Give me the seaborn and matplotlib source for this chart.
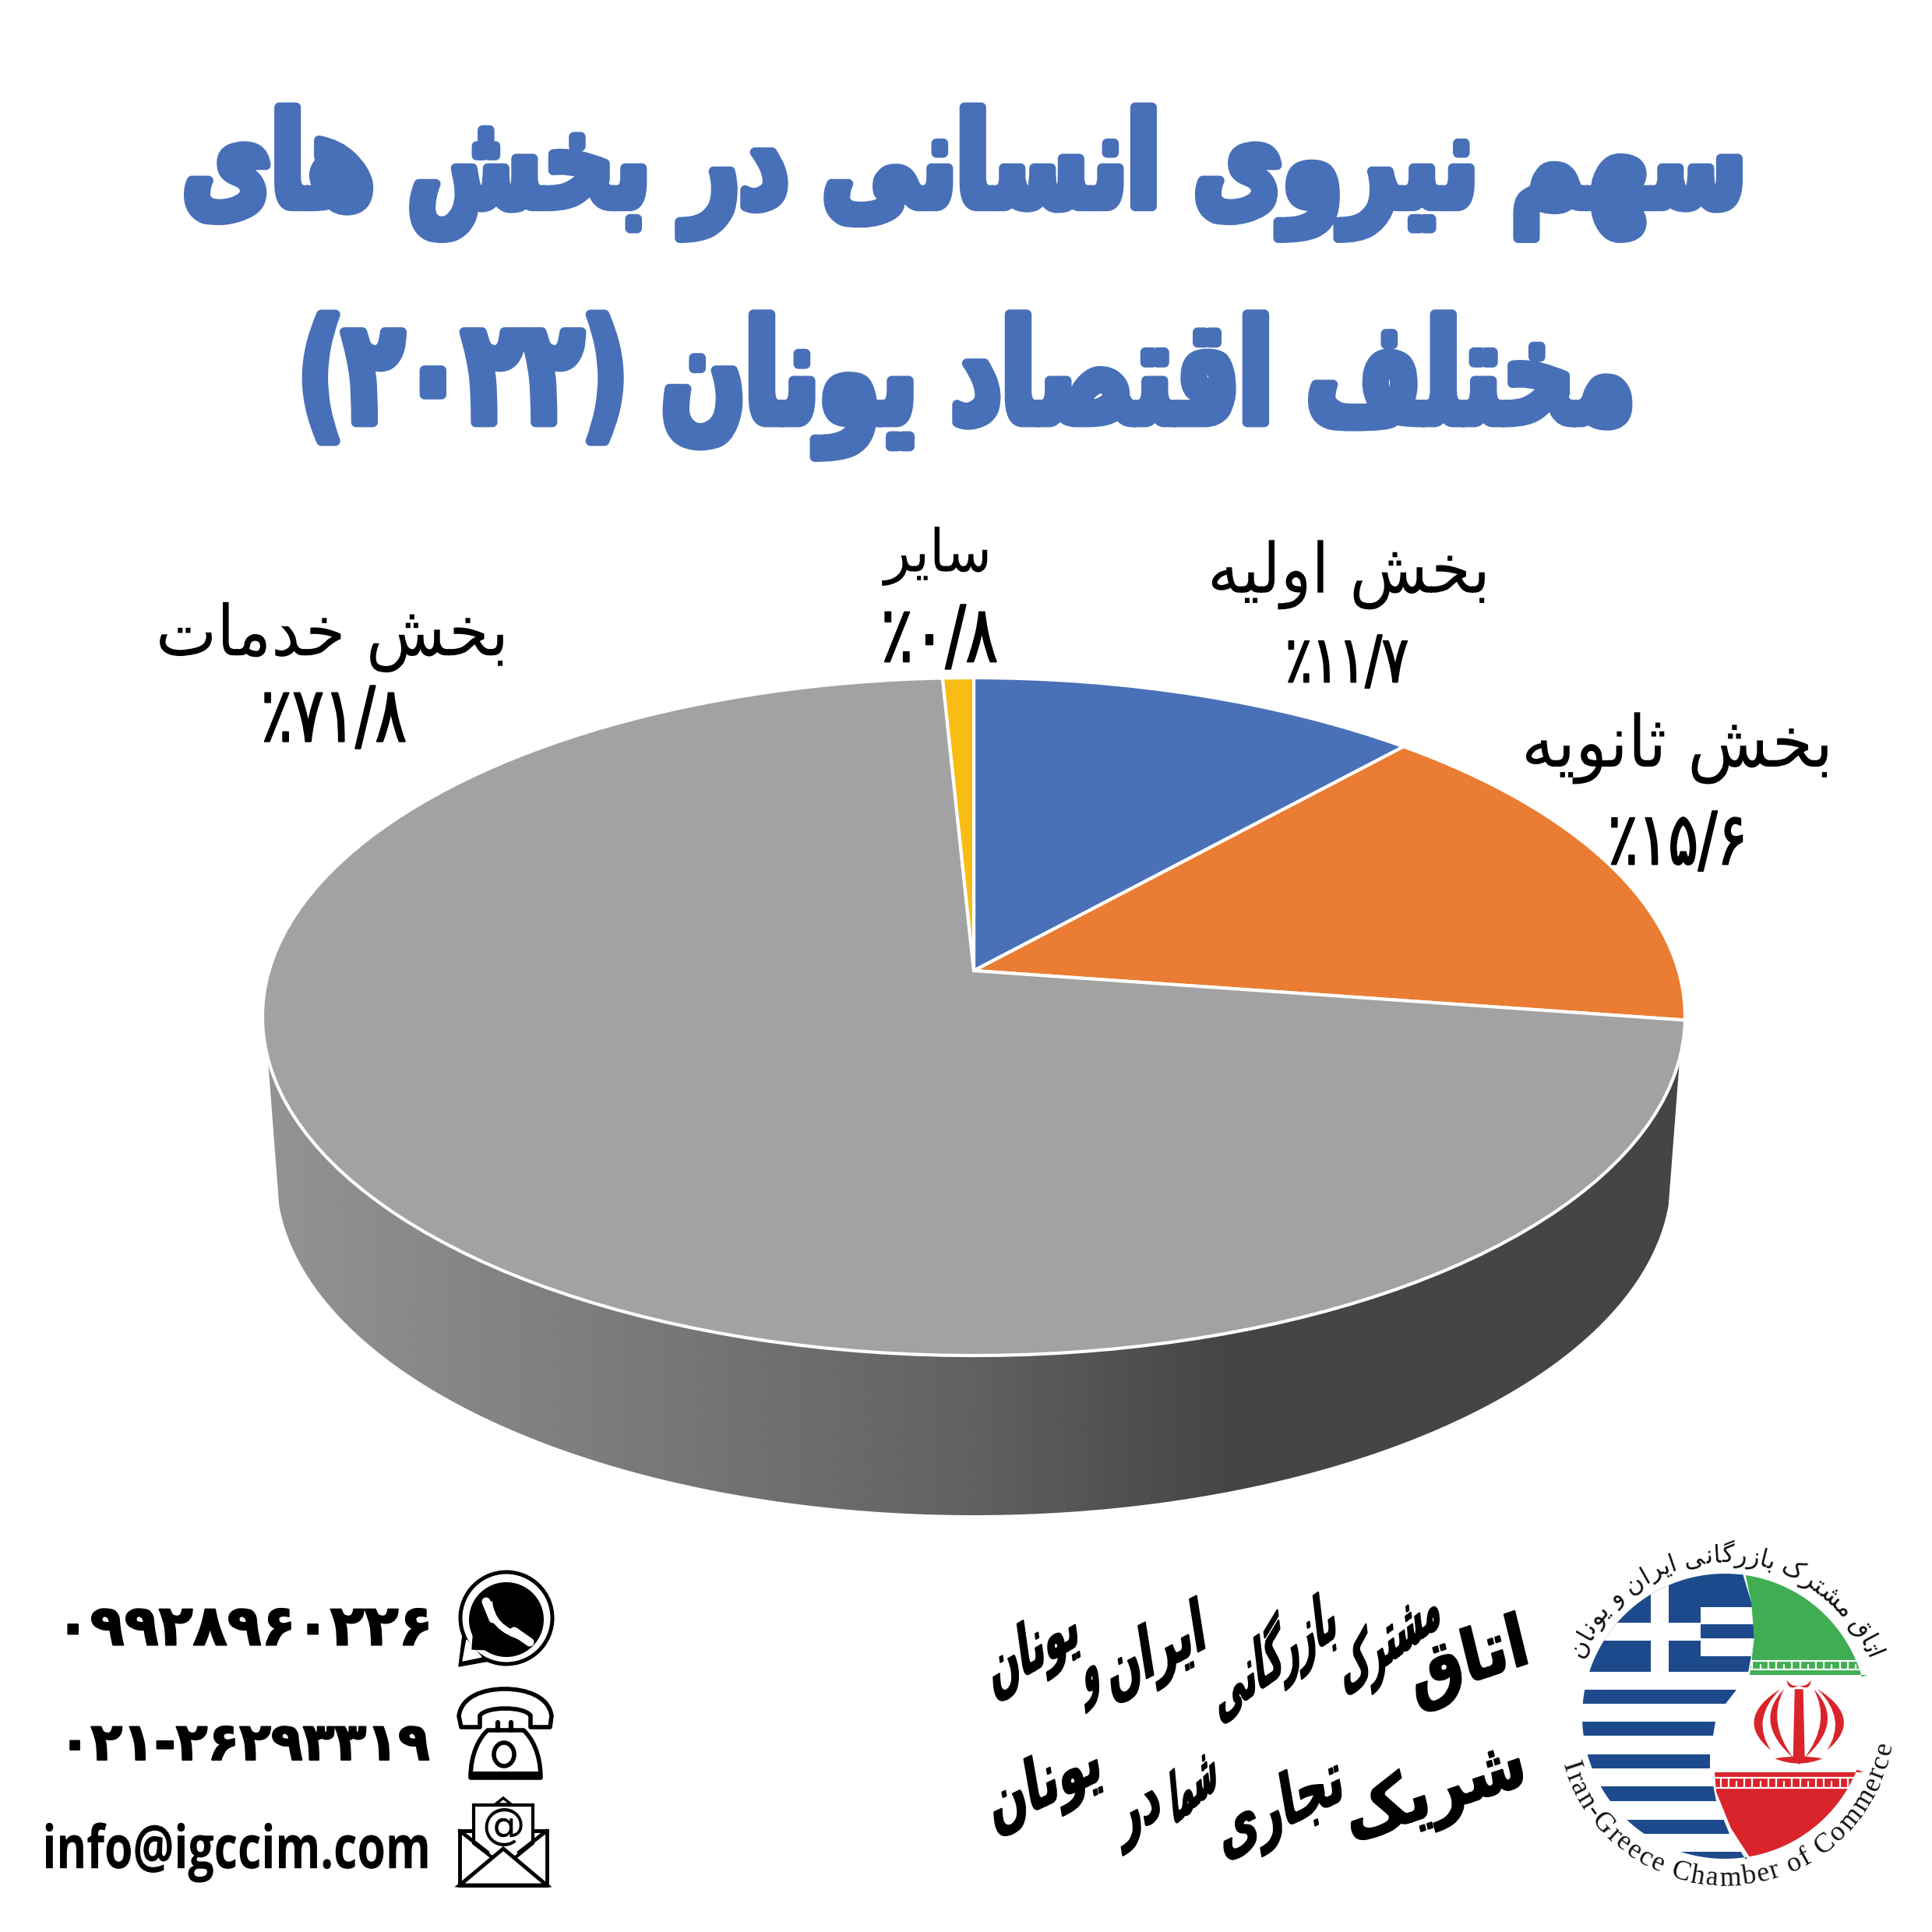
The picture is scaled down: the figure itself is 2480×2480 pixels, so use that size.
#!/usr/bin/env python3
import re
import numpy as np
import matplotlib
matplotlib.use("Agg")
import matplotlib.pyplot as plt
import matplotlib.transforms as mtransforms
import matplotlib.patheffects as pe
from matplotlib.font_manager import FontProperties
from matplotlib.patches import Circle, Ellipse, PathPatch, Polygon, Rectangle
from matplotlib.path import Path
from matplotlib.textpath import text_to_path
import seaborn as sns

# chart values
categories = ["بخش اولیه", "بخش ثانویه", "بخش خدمات", "سایر"]
shares = [11.7, 15.6, 71.8, 0.8]
slice_colors = ["#4A71B8", "#EA7D33", "#A2A2A2", "#F8BC15"]

title_lines = ["سهم نیروی انسانی در بخش های", "مختلف اقتصاد یونان (۲۰۲۲)"]
phone_mobile = "۰۹۹۲۸۹۶۰۲۲۶"
phone_office = "۰۲۱-۲۶۲۹۳۳۱۹"
email = "info@igccim.com"
logo_fa = "اتاق مشترک بازرگانی ایران و یونان"
logo_en = "Iran-Greece Chamber of Commerce"
slogan_1 = ["اتاق", "مشترک", "بازرگانی", "ایران", "و", "یونان"]
slogan_2 = ["شریک", "تجاری", "شما", "در", "یونان"]

TITLE_BLUE = "#4870B8"
GREEK_BLUE = "#1D4A8C"
IRAN_GREEN = "#3FAE53"
IRAN_RED = "#D9242B"

# (isolated, final, initial, medial) presentation forms
FORMS = {
    "ا": (0xFE8D, 0xFE8E), "د": (0xFEA9, 0xFEAA), "ر": (0xFEAD, 0xFEAE),
    "ز": (0xFEAF, 0xFEB0), "و": (0xFEED, 0xFEEE),
    "ب": (0xFE8F, 0xFE90, 0xFE91, 0xFE92), "ت": (0xFE95, 0xFE96, 0xFE97, 0xFE98),
    "ث": (0xFE99, 0xFE9A, 0xFE9B, 0xFE9C), "ج": (0xFE9D, 0xFE9E, 0xFE9F, 0xFEA0),
    "خ": (0xFEA5, 0xFEA6, 0xFEA7, 0xFEA8), "س": (0xFEB1, 0xFEB2, 0xFEB3, 0xFEB4),
    "ش": (0xFEB5, 0xFEB6, 0xFEB7, 0xFEB8), "ص": (0xFEB9, 0xFEBA, 0xFEBB, 0xFEBC),
    "ف": (0xFED1, 0xFED2, 0xFED3, 0xFED4), "ق": (0xFED5, 0xFED6, 0xFED7, 0xFED8),
    "ل": (0xFEDD, 0xFEDE, 0xFEDF, 0xFEE0), "م": (0xFEE1, 0xFEE2, 0xFEE3, 0xFEE4),
    "ن": (0xFEE5, 0xFEE6, 0xFEE7, 0xFEE8), "ه": (0xFEE9, 0xFEEA, 0xFEEB, 0xFEEC),
    "ی": (0xFBFC, 0xFBFD, 0xFBFE, 0xFBFF), "ک": (0xFB8E, 0xFB8F, 0xFB90, 0xFB91),
    "گ": (0xFB92, 0xFB93, 0xFB94, 0xFB95),
}


def shape(text):
    """Persian text to visual order glyphs, since matplotlib does no shaping."""
    out = []
    for i, ch in enumerate(text):
        if ch not in FORMS:
            out.append(ch)
            continue
        prev_joins = i > 0 and text[i - 1] in FORMS and len(FORMS[text[i - 1]]) == 4
        next_joins = i + 1 < len(text) and text[i + 1] in FORMS
        forms = FORMS[ch]
        if len(forms) == 2:
            out.append(chr(forms[1] if prev_joins else forms[0]))
        elif prev_joins and next_joins:
            out.append(chr(forms[3]))
        elif prev_joins:
            out.append(chr(forms[1]))
        elif next_joins:
            out.append(chr(forms[2]))
        else:
            out.append(chr(forms[0]))
    # digits keep their order, everything else runs right to left
    tokens = re.findall(r"[۰-۹/]+|.", "".join(out))
    swap = {"(": ")", ")": "("}
    return "".join(swap.get(t, t) for t in reversed(tokens))


def percent_label(value):
    digits = str(value).translate(str.maketrans("0123456789.", "۰۱۲۳۴۵۶۷۸۹/"))
    return "٪" + digits


class PieView(mtransforms.Transform):
    """Perspective view of the unit pie onto the pixel grid of the page."""
    input_dims = 2
    output_dims = 2

    def transform_non_affine(self, values):
        x, y = values[:, 0], values[:, 1]
        w = 1 + 0.1356 * y
        return np.column_stack([1250 + 904.6 * x / w, 1246 - 427 * y / w])


class Stretched(pe.AbstractPathEffect):
    """Draws text scaled about a point, with an optional outline."""

    def __init__(self, sx, sy, px, py, stroke=0):
        super().__init__()
        self.scale = mtransforms.Affine2D().translate(-px, -py).scale(sx, sy).translate(px, py)
        self.stroke = stroke

    def draw_path(self, renderer, gc, tpath, affine, rgbFace=None):
        gc0 = renderer.new_gc()
        gc0.copy_properties(gc)
        if self.stroke:
            gc0.set_linewidth(self.stroke)
            gc0.set_foreground(rgbFace)
        else:
            gc0.set_linewidth(0)
        renderer.draw_path(gc0, tpath, affine + self.scale, rgbFace)
        gc0.restore()


sns.set_theme(style="white")
plt.rcParams["font.family"] = ["DejaVu Sans"]

fig = plt.figure(figsize=(24.8, 24.8), dpi=100, facecolor="white")
ax = fig.add_axes([0, 0, 1, 1])
renderer = fig.canvas.get_renderer()


def fit_text(text, x0, x1, y, rotation=0, sy=1.0, stroke=0, size=None, **kw):
    """Text spanning x0..x1 in page pixels. With size given, the width comes from stretching."""
    xm = (x0 + x1) / 2
    t = ax.text(xm, y, text, ha="center", va="center", fontsize=40, **kw)
    width = t.get_window_extent(renderer).width
    target = (x1 - x0) / np.cos(np.radians(rotation))
    sx = 1.0
    if size is None:
        t.set_fontsize(40 * target / width)
    else:
        t.set_fontsize(size)
        sx = target / (width * size / 40)
    t.set_rotation(rotation)
    t.set_rotation_mode("anchor")
    t.set_path_effects([Stretched(sx, sy, xm, 2480 - y, stroke)])
    return t


def arc_text(text, cx, cy, r, a0, a1, flip=False, **kw):
    """One glyph at a time along a circle, angles clockwise from the top."""
    prop = FontProperties(family=kw.get("family", "DejaVu Sans"), size=100)
    widths = []
    for ch in text:
        w = text_to_path.get_text_width_height_descent(ch, prop, False)[0]
        widths.append(30.0 if ch == " " else w + 4)
    widths = np.array(widths)
    mids = (np.cumsum(widths) - widths / 2) / widths.sum()
    size = abs(np.radians(a1 - a0)) * r / widths.sum() * 100 * 72 / fig.dpi
    for ch, m in zip(text, mids):
        a = a0 + (a1 - a0) * m
        ax.text(cx + r * np.sin(np.radians(a)), cy - r * np.cos(np.radians(a)), ch,
                rotation=-a + (180 if flip else 0), rotation_mode="anchor",
                ha="center", va="center", fontsize=size, color="#111111", **kw)


def shift_new(n_patches, n_lines, n_texts, dx):
    """Nudge everything added since the given counts by dx page pixels."""
    move = mtransforms.Affine2D().translate(dx, 0) + ax.transData
    for artist in ax.patches[n_patches:] + ax.lines[n_lines:] + ax.texts[n_texts:]:
        artist.set_transform(move)


# pie
wedges, _ = ax.pie(
    shares,
    colors=sns.color_palette(slice_colors),
    startangle=90,
    counterclock=False,
    wedgeprops={"edgecolor": "white", "linewidth": 3, "zorder": 3},
)
view = PieView()
for wedge in wedges:
    wedge.set_transform(view + ax.transData)

# wall below the pie, a grey ramp from left to right
rim_start = np.arcsin((1358 - 1305) / 435)
low_start = np.arcsin((1547 - 1510) / 435)
th_rim = np.linspace(np.pi - rim_start, rim_start, 200)
th_low = np.linspace(low_start, np.pi - low_start, 200)
wall_xy = np.vstack([
    np.column_stack([1250 + 913 * np.cos(th_rim), 1305 + 435 * np.sin(th_rim)]),
    np.column_stack([1250 + 895 * np.cos(th_low), 1510 + 435 * np.sin(th_low)]),
])
ramp = np.interp(np.linspace(330, 2170, 920), [330, 800, 1250, 1580, 2170],
                 [0.58, 0.48, 0.38, 0.27, 0.27])
wall_img = ax.imshow(ramp[None, :], cmap="gray", vmin=0, vmax=1, aspect="auto",
                     extent=(330, 2170, 2000, 1300), zorder=1, interpolation="bilinear")
wall_patch = Polygon(wall_xy, closed=True, transform=ax.transData, fc="none", ec="none")
ax.add_patch(wall_patch)
wall_img.set_clip_path(wall_patch)

ax.set_aspect("auto")
ax.set_xlim(0, 2480)
ax.set_ylim(2480, 0)
ax.axis("off")

# title
fit_text(shape(title_lines[0]), 235, 2240, 222, sy=1.35, stroke=9, color=TITLE_BLUE, fontweight="bold")
fit_text(shape(title_lines[1]), 382, 2098, 495, sy=1.45, stroke=9, color=TITLE_BLUE, fontweight="bold")

# slice labels
name_spans = [(1550, 1913, 738), (1953, 2353, 960), (200, 653, 818), (1135, 1273, 714)]
value_spans = [(1650, 1808, 852), (2064, 2243, 1084), (335, 522, 925), (1131, 1281, 822)]
for name, share, n_span, v_span in zip(categories, shares, name_spans, value_spans):
    fit_text(shape(name), n_span[0], n_span[1], n_span[2], sy=1.08, color="black")
    fit_text(percent_label(share), v_span[0], v_span[1], v_span[2], sy=1.3, stroke=1.5, color="black")

# contact lines
fit_text(phone_mobile, 72, 556, 2092, stroke=1.5, color="black", fontweight="bold")
fit_text(phone_office, 76, 552, 2240, stroke=1.5, color="black", fontweight="bold")
fit_text(email, 55, 553, 2378, sy=1.3, color="black", family="Open Sans", fontweight="bold")

counts = (len(ax.patches), len(ax.lines), len(ax.texts))

# whatsapp icon
ax.add_patch(Polygon([(593, 2139), (598, 2098), (632, 2132)], fc="black", ec="black", lw=1))
ax.add_patch(Circle((654, 2077), 59, fc="white", ec="black", lw=3.6))
ax.add_patch(Polygon([(598, 2132), (603, 2105), (622, 2127)], fc="white", ec="white", lw=1))
ax.add_patch(Polygon([(610, 2117), (612, 2092), (636, 2118)], fc="black", ec="black", lw=1))
ax.add_patch(Circle((654, 2079), 48, fc="black", ec="none"))
ax.add_patch(PathPatch(Path([(632, 2056), (634, 2090), (676, 2102)],
                            [Path.MOVETO, Path.CURVE3, Path.CURVE3]),
                       fc="none", ec="white", lw=6))
ax.plot([628, 637], [2056, 2078], color="white", lw=8, solid_capstyle="round")
ax.plot([664, 684], [2094, 2108], color="white", lw=8, solid_capstyle="round")

# telephone icon
handset = Path(
    [(593, 2203), (596, 2178), (624, 2168), (652, 2168), (680, 2168), (709, 2178), (712, 2203),
     (710, 2217), (685, 2217), (685, 2202), (676, 2190), (629, 2190), (620, 2202),
     (620, 2217), (596, 2217), (593, 2203)],
    [Path.MOVETO, Path.CURVE4, Path.CURVE4, Path.CURVE4, Path.CURVE4, Path.CURVE4, Path.CURVE4,
     Path.LINETO, Path.LINETO, Path.LINETO, Path.CURVE4, Path.CURVE4, Path.CURVE4,
     Path.LINETO, Path.LINETO, Path.CLOSEPOLY],
)
ax.add_patch(PathPatch(handset, fc="white", ec="black", lw=4, joinstyle="round"))
body = Path(
    [(608, 2282), (608, 2250), (620, 2230), (630, 2221), (676, 2221), (686, 2230), (698, 2250),
     (698, 2282), (608, 2282)],
    [Path.MOVETO, Path.CURVE4, Path.CURVE4, Path.CURVE4, Path.LINETO, Path.CURVE4, Path.CURVE4,
     Path.CURVE4, Path.CLOSEPOLY],
)
ax.add_patch(PathPatch(body, fc="white", ec="black", lw=4, joinstyle="round"))
ax.add_patch(Rectangle((606, 2274), 94, 9, fc="black", ec="none"))
ax.add_patch(Ellipse((651, 2252), 26, 30, fc="white", ec="black", lw=4))
ax.plot([643, 643], [2211, 2221], color="black", lw=4.5)
ax.plot([660, 660], [2211, 2221], color="black", lw=4.5)

# mail icon
ax.add_patch(Polygon([(594, 2350), (594, 2420), (706, 2420), (706, 2350)], closed=True,
                     fc="white", ec="black", lw=3.5))
ax.add_patch(Polygon([(612, 2317), (612, 2366), (651, 2396), (688, 2366), (688, 2317)], closed=True,
                     fc="white", ec="black", lw=3))
ax.add_patch(Polygon([(640, 2316), (650, 2308), (660, 2316)], closed=True, fc="white", ec="black", lw=2.5))
ax.plot([594, 630], [2350, 2378], color="black", lw=3.5)
ax.plot([706, 670], [2350, 2378], color="black", lw=3.5)
ax.add_patch(Polygon([(594, 2420), (650, 2373), (706, 2420)], closed=True, fc="white", ec="black", lw=3.5))
ax.text(650, 2345, "@", ha="center", va="center", fontsize=40, color="black")

shift_new(*counts, -4)

# calligraphic lines, word by word, each sloping up to its right end
word_spans_1 = [(1170, 1485, 310), (990, 1250, 235), (650, 970, 280), (360, 620, 280), (295, 335, 350), (45, 280, 270)]
word_spans_2 = [(1000, 1480, 820), (660, 990, 880), (530, 650, 790), (390, 500, 880), (45, 340, 790)]
for words, spans in ((slogan_1, word_spans_1), (slogan_2, word_spans_2)):
    for word, (z0, z1, zy) in zip(words, spans):
        fit_text(shape(word), 1250 + z0 / 2.09, 1250 + z1 / 2.09, 2030 + zy / 3, rotation=16,
                 sy=1.75, size=38, stroke=1.5, color="black", fontweight="bold")

counts = (len(ax.patches), len(ax.lines), len(ax.texts))

# logo, positions measured on the crop of the badge
CX, CY, R = 2214, 2203, 183


def lz(zx, zy):
    return (1950 + zx / 2.94, 1980 + zy / 3)


def circle_arc(a0, a1):
    a = np.radians(np.linspace(a0, a1, 80))
    return [(CX + R * np.sin(v), CY - R * np.cos(v)) for v in a]


greek_edge = [(2241, 2387), (2220, 2354), (2203, 2312), (2195, 2270), (2195, 2252), (2202, 2210),
              (2215, 2187), (2229, 2169), (2244, 2147), (2252, 2103), (2249, 2060), (2237, 2020)]
greek_clip = Polygon(circle_arc(7, -189) + greek_edge, closed=True, fc="none", ec="none",
                     transform=ax.transData)
ax.add_patch(greek_clip)


def greek_rect(z0, z1, y0, y1, color):
    x0, top = lz(z0, y0)
    x1, bot = lz(z1, y1)
    patch = Rectangle((x0, top), x1 - x0, bot - top, fc=color, ec="none")
    ax.add_patch(patch)
    patch.set_clip_path(greek_clip)


greek_rect(150, 950, 100, 498, GREEK_BLUE)
greek_rect(498, 565, 100, 500, "white")
greek_rect(150, 685, 310, 378, "white")
greek_rect(685, 950, 248, 315, "white")
greek_rect(685, 950, 370, 438, "white")
for y0, y1 in [(567, 620), (690, 745), (815, 870), (938, 997), (1067, 1122), (1190, 1240)]:
    greek_rect(150, 950, y0, y1, GREEK_BLUE)

green_poly = Polygon(circle_arc(8.4, 74) + [(2397, 2150), (2246, 2150), (2252, 2103), (2248, 2057)],
                     closed=True, fc=IRAN_GREEN, ec="none")
ax.add_patch(green_poly)
red_poly = Polygon([(2201, 2275), (2392, 2275)] + circle_arc(112, 170)
                   + [(2248, 2387), (2222, 2347), (2203, 2300)],
                   closed=True, fc=IRAN_RED, ec="none")
ax.add_patch(red_poly)

# kufic bands, only a rough pattern of white strokes
for poly, z_top, z_bot in ((green_poly, 455, 490), (red_poly, 905, 945)):
    for zy in (z_top, z_bot):
        line, = ax.plot([lz(700, zy)[0], lz(1320, zy)[0]], [lz(700, zy)[1]] * 2, color="white", lw=1.6)
        line.set_clip_path(poly)
    for k, zx in enumerate(range(730, 1320, 30)):
        low = z_top if k % 3 else z_top + 15
        line, = ax.plot([lz(zx, low)[0]] * 2, [lz(zx, low)[1], lz(zx, z_bot)[1]], color="white", lw=1.6)
        line.set_clip_path(poly)


def crescent(p0, p1, c_outer, c_inner):
    pts = [lz(*p0), lz(*c_outer), lz(*p1), lz(*c_inner), lz(*p0), lz(*p0)]
    codes = [Path.MOVETO, Path.CURVE3, Path.CURVE3, Path.CURVE3, Path.CURVE3, Path.CLOSEPOLY]
    ax.add_patch(PathPatch(Path(pts, codes), fc=IRAN_RED, ec="none"))


for mirror in (lambda x: x, lambda x: 2112 - x):
    crescent((mirror(985), 565), (mirror(950), 800), (mirror(807), 680), (mirror(873), 680))
    crescent((mirror(1000), 565), (mirror(1035), 830), (mirror(880), 690), (mirror(933), 690))
    crescent((mirror(1010), 530), (mirror(1056), 550), (mirror(1015), 575), (mirror(1030), 560))
ax.add_patch(Polygon([lz(1040, 565), lz(1072, 565), lz(1078, 830), lz(1056, 855), lz(1034, 830)],
                     closed=True, fc=IRAN_RED, ec="none"))
crescent((965, 832), (1145, 832), (1055, 870), (1055, 815))

arc_text(shape(logo_fa), CX, CY, 206, -68, 69)
arc_text(logo_en, CX, CY, 209, 253.6, 99.1, flip=True, family="Liberation Serif")

fig.savefig("out.png", dpi=100, facecolor="white")
